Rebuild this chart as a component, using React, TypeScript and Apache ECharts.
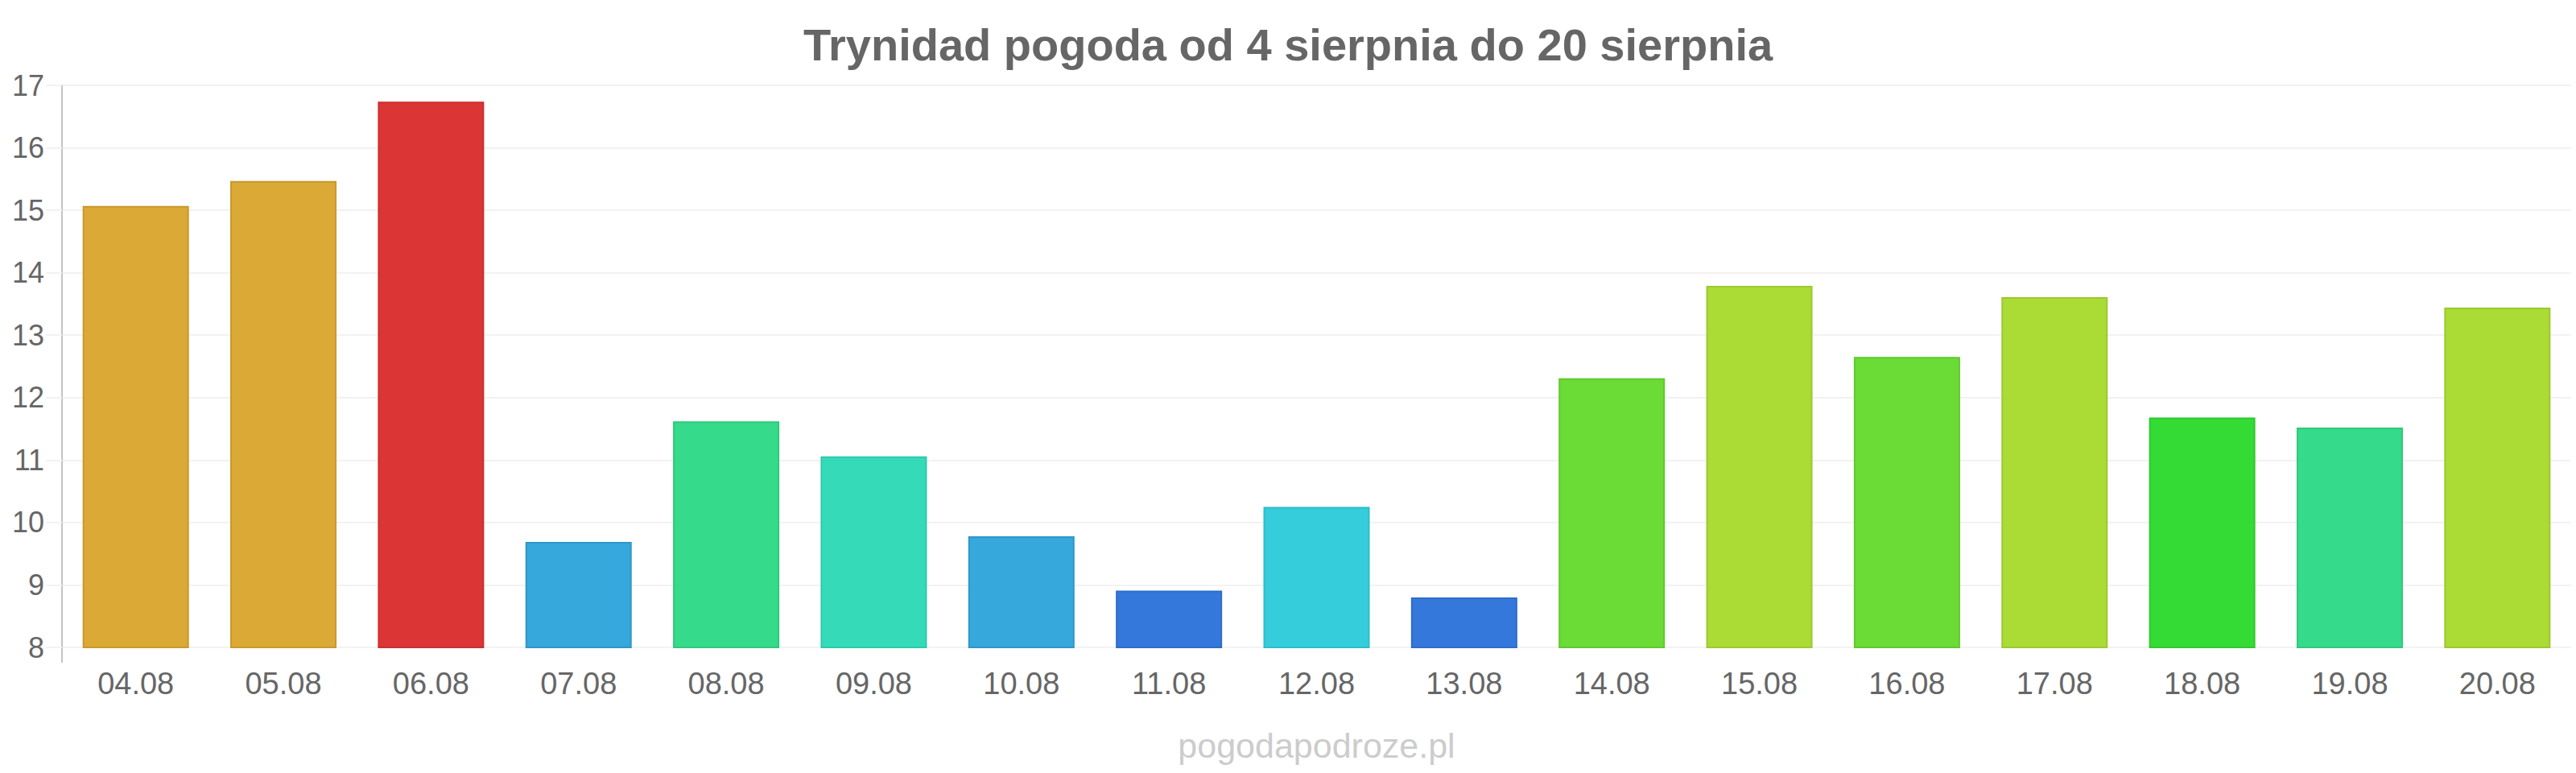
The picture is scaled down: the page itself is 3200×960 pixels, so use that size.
import React, { useEffect, useRef } from "react";
import * as echarts from "echarts";

const chartTitle = "Trynidad pogoda od 4 sierpnia do 20 sierpnia";
const watermark = "pogodapodroze.pl";

const categories = [
  "04.08", "05.08", "06.08", "07.08", "08.08", "09.08", "10.08", "11.08", "12.08",
  "13.08", "14.08", "15.08", "16.08", "17.08", "18.08", "19.08", "20.08",
];

const temperatures = [
  15.07, 15.47, 16.74, 9.69, 11.62, 11.06, 9.78, 8.91, 10.25,
  8.8, 12.31, 13.79, 12.65, 13.61, 11.68, 11.52, 13.44,
];

const yMin = 8;
const yMax = 17;
const yStep = 1;

const fillColors = [
  "#DBA935", "#DBA935", "#DB3535", "#36A8DB", "#35DB8A", "#35DBB9", "#36A8DB", "#3578DB", "#35CDDB",
  "#3578DB", "#6BDB35", "#ABDB35", "#6BDB35", "#ABDB35", "#35DB35", "#35DB8A", "#ABDB35",
];
const borderColors = [
  "#C9982E", "#C9982E", "#C93030", "#2F97C9", "#2FC97C", "#2FC9AA", "#2F97C9", "#2F6BC9", "#2FBCC9",
  "#2F6BC9", "#5FC92F", "#9CC92F", "#5FC92F", "#9CC92F", "#2FC92F", "#2FC97C", "#9CC92F",
];

const FONT = "'Liberation Sans', Arial, sans-serif";

export default function App() {
  const ref = useRef<HTMLDivElement>(null);

  useEffect(() => {
    document.body.style.margin = "0";
    if (!ref.current) return;
    const chart = echarts.init(ref.current, null, { renderer: "svg" });
    const gridLeft = 77;
    const gridRight = 6;
    const gridTop = 106;
    const gridBottom = 156;
    chart.setOption({
      animation: false,
      backgroundColor: "#ffffff",
      title: {
        text: chartTitle,
        left: "center",
        top: 27,
        padding: 0,
        textStyle: { fontSize: 56, fontWeight: "bold", color: "#666666", fontFamily: FONT },
      },
      grid: { left: gridLeft, right: gridRight, top: gridTop, bottom: gridBottom, containLabel: false },
      xAxis: {
        type: "category",
        data: categories,
        axisLine: { show: false },
        axisTick: { show: false },
        axisLabel: { fontSize: 38, color: "#666666", margin: 26, fontFamily: FONT },
      },
      yAxis: {
        type: "value",
        min: yMin,
        max: yMax,
        interval: yStep,
        axisLine: { show: true, lineStyle: { color: "#c4c4c4", width: 2 } },
        axisTick: { show: true, length: 20, lineStyle: { color: "#f2f2f2", width: 2 } },
        splitLine: { show: true, lineStyle: { color: "#f2f2f2", width: 2 } },
        axisLabel: { fontSize: 36, color: "#666666", margin: 22, fontFamily: FONT },
      },
      graphic: [
        {
          type: "line",
          shape: { x1: gridLeft, y1: 960 - gridBottom, x2: gridLeft, y2: 960 - gridBottom + 19 },
          style: { stroke: "#c4c4c4", lineWidth: 2 },
          silent: true,
        },
        {
          type: "text",
          x: (gridLeft + 3200 - gridRight) / 2,
          y: 904,
          style: {
            text: watermark,
            fill: "#cccccc",
            font: `43px ${FONT}`,
            textAlign: "center",
            textVerticalAlign: "top",
          },
          silent: true,
        },
      ],
      series: [
        {
          type: "bar",
          barCategoryGap: "28%",
          data: temperatures.map((v, i) => ({
            value: v,
            itemStyle: { color: fillColors[i], borderColor: borderColors[i], borderWidth: 2 },
          })),
        },
      ],
    });
    return () => chart.dispose();
  }, []);

  return <div ref={ref} style={{ width: 3200, height: 960 }} />;
}
